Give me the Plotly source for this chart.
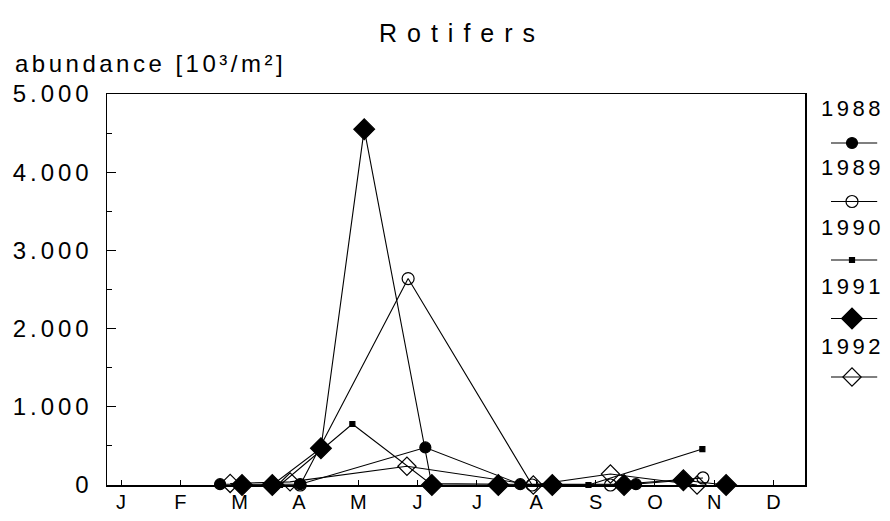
import plotly.graph_objects as go

# ---- data (month position: J=1 ... D=12) ----
month_ticks = [1, 2, 3, 4, 5, 6, 7, 8, 9, 10, 11, 12]
month_labels = ["J", "F", "M", "A", "M", "J", "J", "A", "S", "O", "N", "D"]

y_tickvals = [0, 1000, 2000, 3000, 4000, 5000]
y_ticktext = ["0", "1.000", "2.000", "3.000", "4.000", "5.000"]

x1988 = [2.67, 4.02, 6.13, 7.73, 9.68]
y1988 = [10, 10, 480, 10, 10]

x1989 = [4.02, 5.84, 7.93, 9.25, 10.81]
y1989 = [0, 2640, 0, 0, 90]

x1990 = [3.68, 4.90, 6.21, 8.88, 10.80]
y1990 = [0, 780, 20, 0, 460]

x1991 = [3.04, 3.55, 4.37, 5.10, 6.24, 7.36, 8.27, 9.48, 10.48, 11.20]
y1991 = [0, 0, 470, 4550, 0, 0, 0, 0, 60, 0]

x1992 = [2.84, 3.85, 5.82, 7.95, 9.25, 10.71]
y1992 = [20, 40, 240, 0, 140, 0]

years = ["1988", "1989", "1990", "1991", "1992"]
symbols = ["circle", "circle-open", "square", "diamond", "diamond-open"]
msizes = [11, 12, 5, 16, 14]
series_x = [x1988, x1989, x1990, x1991, x1992]
series_y = [y1988, y1989, y1990, y1991, y1992]

FONT = "Liberation Sans, Arial, sans-serif"

fig = go.Figure()
for name, sx, sy, sym, ms in zip(years, series_x, series_y, symbols, msizes):
    fig.add_trace(go.Scatter(
        x=sx, y=sy, mode="lines+markers", name=name, showlegend=False,
        line=dict(color="black", width=1.1),
        marker=dict(symbol=sym, size=ms, color="black",
                    line=dict(color="black", width=1.2)),
        cliponaxis=False,
    ))

# ---- custom legend (label above a line sample) ----
W, H = 890, 521
ml, mr, mt, mb = 107, 5, 94, 36
plot_w = W - ml - mr
plot_h = H - mt - mb
main_right = 805
x_dom_main = (main_right - ml) / plot_w

label_rows = [108, 167.5, 227, 286.5, 346]
sample_rows = [143, 201.5, 260, 318.5, 377]

for i, name in enumerate(years):
    py = sample_rows[i]
    yy = (H - mb - py) / plot_h
    fig.add_trace(go.Scatter(
        x=[0.15, 0.92], y=[yy, yy], xaxis="x2", yaxis="y2",
        mode="lines", showlegend=False, hoverinfo="skip",
        line=dict(color="black", width=1.1), cliponaxis=False,
    ))
    fig.add_trace(go.Scatter(
        x=[0.5], y=[yy], xaxis="x2", yaxis="y2",
        mode="markers", showlegend=False, hoverinfo="skip",
        marker=dict(symbol=symbols[i], size=msizes[i], color="black",
                    line=dict(color="black", width=1.2)),
        cliponaxis=False,
    ))
    ly = (H - mb - label_rows[i]) / plot_h
    fig.add_annotation(
        x=0.5, y=ly, xref="x2", yref="y2", text=name, showarrow=False,
        font=dict(family=FONT, size=22, color="black"),
        xanchor="center", yanchor="middle",
    )

fig.add_annotation(
    x=(13 - ml) / (main_right - ml) * x_dom_main, y=(H - mb - 63) / plot_h,
    xref="paper", yref="paper", text="abundance [10³/m²]", showarrow=False,
    font=dict(family=FONT, size=24, color="black"),
    xanchor="left", yanchor="middle", align="left",
)

fig.update_layout(
    width=W, height=H,
    margin=dict(l=ml, r=mr, t=mt, b=mb),
    paper_bgcolor="white", plot_bgcolor="white",
    title=dict(text="Rotifers", x=462 / W, xref="container",
               y=1 - 33 / H, yref="container", xanchor="center", yanchor="middle",
               font=dict(family=FONT, size=25, color="black")),
    xaxis=dict(domain=[0, x_dom_main], range=[0.764, 12.53],
               tickvals=month_ticks, ticktext=month_labels,
               ticks="inside", ticklen=5, tickwidth=1, tickcolor="black",
               showline=True, linecolor="black", linewidth=1.5, mirror=True,
               showgrid=False, zeroline=False, ticklabelstandoff=-2,
               tickfont=dict(family=FONT, size=20, color="black")),
    yaxis=dict(range=[0, 5000], tickvals=y_tickvals, ticktext=y_ticktext,
               ticks="inside", ticklen=9, tickwidth=1, tickcolor="black",
               minor=dict(dtick=500, ticks="inside", ticklen=5, tickcolor="black"),
               showline=True, linecolor="black", linewidth=1.5, mirror=True,
               showgrid=False, zeroline=False, ticklabelstandoff=8,
               tickfont=dict(family=FONT, size=24, color="black")),
    xaxis2=dict(domain=[(822 - ml) / plot_w, (882 - ml) / plot_w], range=[0, 1],
                visible=False, anchor="y2"),
    yaxis2=dict(domain=[0, 1], range=[0, 1], visible=False, anchor="x2"),
    hovermode=False,
)

post = """
document.documentElement.style.margin='0';
document.body.style.margin='0';
document.body.style.padding='0';
var gd = document.getElementById('{plot_id}');
function sp(){
  gd.querySelectorAll('.ytick text').forEach(function(e){e.style.letterSpacing='4px';});
  gd.querySelectorAll('.gtitle').forEach(function(e){e.style.letterSpacing='10px';});
  gd.querySelectorAll('.annotation-text').forEach(function(e){e.style.letterSpacing='3.5px';});
}
sp();
if (gd.on) { gd.on('plotly_afterplot', sp); }
"""

fig.write_html("out.html", post_script=post,
               config={"displayModeBar": False, "staticPlot": True})
